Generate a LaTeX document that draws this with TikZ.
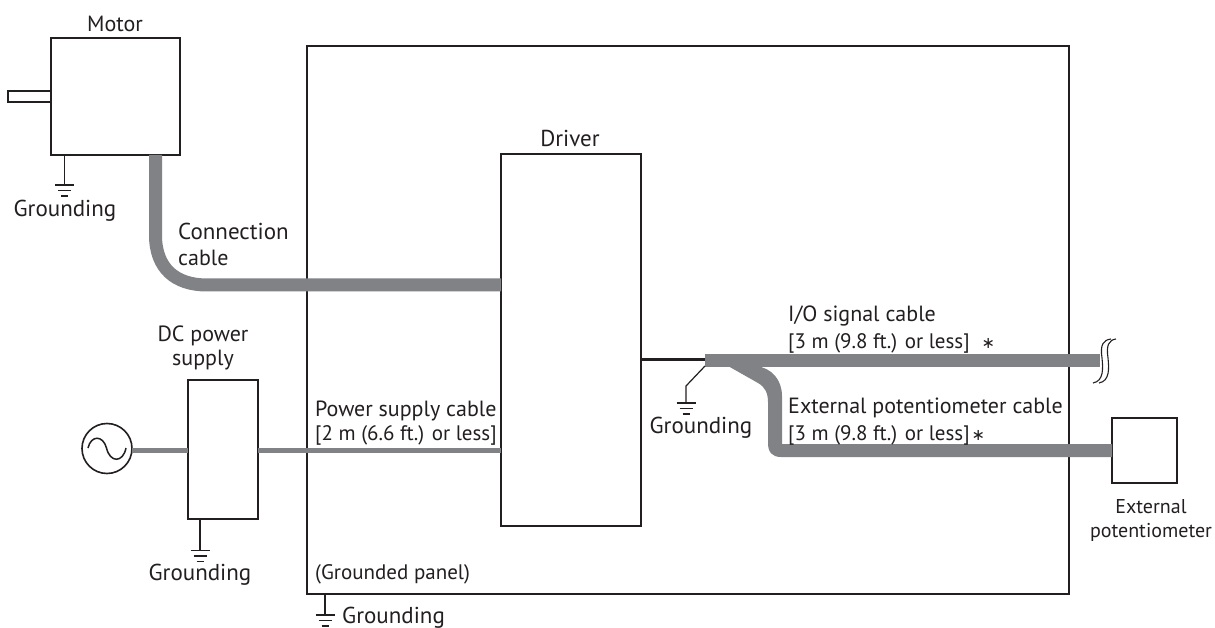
\documentclass[tikz,border=0pt]{standalone}
\usepackage{fontspec}
\setmainfont{PT Sans}
\newfontfamily\symfont{DejaVu Sans}
\usetikzlibrary{calc}
\definecolor{ink}{HTML}{231F20}
\definecolor{cablegray}{HTML}{808285}
\tikzset{
  x=1pt,y=-1pt,
  box/.style={draw=ink,line width=2pt,fill=white,inner sep=0pt,outer sep=0pt,anchor=north west},
  thick cable/.style={draw=cablegray,line width=13pt,line cap=butt},
  thin cable/.style={draw=cablegray,line width=5pt},
  lead/.style={draw=ink,line width=1.4pt},
  bar/.style={draw=ink,line width=1.3pt},
  lbl/.style={font=\fontsize{22}{26}\selectfont,text=ink,inner sep=0pt,anchor=base},
  lbll/.style={lbl,anchor=base west},
  gnd/.style={font=\fontsize{23}{27}\selectfont},
  rng/.style={font=\fontsize{21}{25}\selectfont},
  nar/.style={font=\fontsize{20}{24}\selectfont},
}
\newcommand{\gndsym}[1]{%
  \draw[bar] ($(#1)+(-9.5,0)$) -- ($(#1)+(9.5,0)$);
  \draw[bar] ($(#1)+(-6.5,5.5)$) -- ($(#1)+(6.5,5.5)$);
  \draw[bar] ($(#1)+(-3.5,11)$) -- ($(#1)+(3.5,11)$);
}
\newcommand{\astmark}{{\symfont\fontsize{16}{16}\selectfont ∗}}
\begin{document}
\begin{tikzpicture}
\useasboundingbox (0,0) rectangle (1215,628);
% boxes
\node[box,minimum width=762pt,minimum height=548pt] (panel) at (307,46) {};
\node[box,minimum width=129pt,minimum height=117pt] (motor) at (51,38) {};
\node[box,minimum width=43pt,minimum height=11pt] (shaft) at (8,91) {};
\node[box,minimum width=140pt,minimum height=372pt] (driver) at (501,154) {};
\node[box,minimum width=70pt,minimum height=139pt] (psu) at (188,380) {};
\node[box,minimum width=65pt,minimum height=65pt] (pot) at (1112,418) {};
\node[draw=ink,line width=1.6pt,circle,minimum size=50pt,inner sep=0pt,outer sep=0pt,fill=white] (ac) at (107,448.5) {};
\draw[ink,line width=1.5pt] (88,448) .. controls (91,435) and (103,435) .. (106.5,448) .. controls (110,463) and (123,463) .. (126,448);
% coordinates
\coordinate (jct) at (705,360.5);
\coordinate (brk) at (1100,360.5);
\coordinate (mg) at (64.5,155);
\coordinate (mgs) at (64.5,185);
\coordinate (pg) at (200,519);
\coordinate (pgs) at (200,550.5);
\coordinate (pang) at (325,594);
\coordinate (pangs) at (325,615);
\coordinate (jg) at (705,366);
\coordinate (jgk) at (686,386);
\coordinate (jgs) at (686,403);
% cables
\draw[thick cable] (155.5,155) -- (155.5,235) .. controls (155.5,268) and (175,285) .. (207,285) -- (driver.west |- 0,285);
\draw[thin cable] (ac.east |- 0,450.5) -- (psu.west |- 0,450.5);
\draw[thin cable] (psu.east |- 0,450.5) -- (driver.west |- 0,450.5);
\draw[draw=ink,line width=3pt] (driver.east |- jct) ++(0,-1) -- (705,359.5);
\draw[thick cable] (jct) -- (brk);
\fill[cablegray] (728,366) -- (758,383) .. controls (765,387) and (768,393) .. (768,402) -- (768,443) .. controls (768,452) and (772,457) .. (781,457) -- (pot.west |- 0,457) -- (pot.west |- 0,444) -- (782,444) -- (782,396) .. controls (782,380) and (772,368) .. (756,366) -- cycle;
% grounds
\draw[lead] (mg) -- (mgs); \gndsym{mgs}
\draw[lead] (pg) -- (pgs); \gndsym{pgs}
\draw[lead] (pang) -- (pangs); \gndsym{pangs}
\draw[lead,line width=1.2pt] (jg) -- (jgk) -- (jgs); \gndsym{jgs}
% break mark
\draw[ink,line width=1.1pt] (1093,383) .. controls (1104,381) and (1103,368) .. (1102,358) .. controls (1100,345) and (1103,340) .. (1111,339);
\draw[ink,line width=1.1pt] (1099,383) .. controls (1110,381) and (1109,368) .. (1108,358) .. controls (1106,345) and (1109,340) .. (1116,339);
% labels
\node[lbl] (tmotor) at (115,32) {Motor};
\node[lbl,gnd] (tdriver) at (570,147) {Driver};
\node[lbl,gnd] (tg1) at (65,217) {Grounding};
\node[lbll,gnd] (tc1) at (178,240) {Connection};
\node[lbll] (tc2) at (178,266) {cable};
\node[lbl] (tdc1) at (203,341) {DC power};
\node[lbl] (tdc2) at (203,365) {supply};
\node[lbll] (tps1) at (315,416) {Power supply cable};
\node[lbll,rng] (tps2) at (315,440) {[2 m (6.6 ft.) or less]};
\node[lbl,gnd] (tg2) at (200,580) {Grounding};
\node[lbll,rng] (tgp) at (315,579) {(Grounded panel)};
\node[lbll,gnd] (tg3) at (342,623) {Grounding};
\node[lbl,gnd] (tg4) at (701,433) {Grounding};
\node[lbll] (tio1) at (788,321) {I/O signal cable};
\node[lbll,rng] (tio2) at (788,348) {[3 m (9.8 ft.) or less]\hspace{12pt}\astmark};
\node[lbll] (tep1) at (788,413) {External potentiometer cable};
\node[lbll,rng] (tep2) at (788,440) {[3 m (9.8 ft.) or less]\hspace{2pt}\astmark};
\node[lbl,nar] (tex1) at (1151,513) {External};
\node[lbl,nar] (tex2) at (1151,537) {potentiometer};
\end{tikzpicture}
\end{document}
